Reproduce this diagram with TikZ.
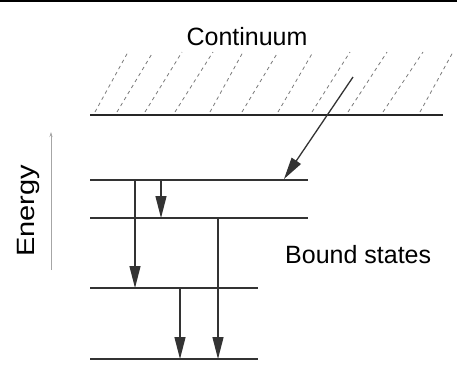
\documentclass[tikz,border=0pt]{standalone}
\usepackage{fontspec}
\setmainfont{Liberation Sans}
\usetikzlibrary{arrows.meta}
\definecolor{lvl}{HTML}{333333}
\definecolor{hatch}{HTML}{7A7A7A}
\tikzset{
  level/.style={draw=lvl, line width=1.4pt},
  trans/.style={draw=lvl, line width=1.3pt, -{Triangle[length=22pt,width=11pt]}},
  hatchline/.style={draw=hatch, line width=0.8pt, dash pattern=on 3.5pt off 3.5pt},
  lbl/.style={font=\fontsize{25}{30}\selectfont, text=black, inner sep=0pt},
}
\begin{document}
\begin{tikzpicture}[x=1pt,y=-1pt]
\useasboundingbox (0,0) rectangle (457,365);
% top rule
\draw[line width=1.6pt] (0,0.8) -- (457,0.8);
% hatching
\foreach \b/\t in {95/128,117/153,145/182,175/213,210/243,242/278,278/313,312/350,348/387,383/423,420/453}
  \draw[hatchline] (\b,112) -- (\t,52);
% continuum edge
\coordinate (cL) at (90,115);
\coordinate (cR) at (443,115);
\draw[draw=black!85, line width=2.2pt] (cL) -- (cR);
% labels
\node[lbl, anchor=base] (cont) at (247,45) {Continuum};
\node[lbl, anchor=base west] (bound) at (285,263) {Bound states};
\node[lbl, rotate=90, anchor=base] (energy) at (34,211) {\scalebox{1.16}[1]{Energy}};
% energy axis
\coordinate (eB) at (51,270);
\coordinate (eT) at (51,132);
\draw[draw=black!35, line width=0.6pt, -{Stealth[length=5pt,width=3pt]}] (eB) -- (eT);
% levels
\coordinate (l1a) at (90,180); \coordinate (l1b) at (308,180);
\coordinate (l2a) at (90,218); \coordinate (l2b) at (308,218);
\coordinate (l3a) at (90,288); \coordinate (l3b) at (258,288);
\coordinate (l4a) at (90,359); \coordinate (l4b) at (258,359);
\draw[level] (l1a) -- (l1b);
\draw[level] (l2a) -- (l2b);
\draw[level] (l3a) -- (l3b);
\draw[level] (l4a) -- (l4b);
% capture arrow
\coordinate (capS) at (353,77);
\coordinate (capE) at (284,179);
\draw[trans] (capS) -- (capE);
% transitions
\coordinate (t1s) at (135,180); \coordinate (t1e) at (135,288);
\coordinate (t2s) at (161,180); \coordinate (t2e) at (161,218);
\coordinate (t3s) at (218,218); \coordinate (t3e) at (218,359);
\coordinate (t4s) at (180,288); \coordinate (t4e) at (180,359);
\draw[trans] (t1s) -- (t1e);
\draw[trans] (t2s) -- (t2e);
\draw[trans] (t3s) -- (t3e);
\draw[trans] (t4s) -- (t4e);
\end{tikzpicture}
\end{document}
